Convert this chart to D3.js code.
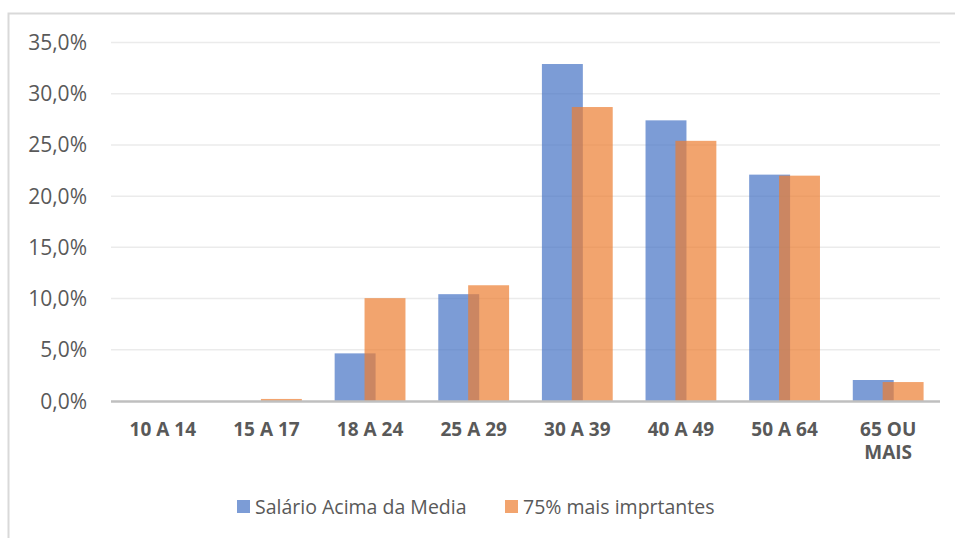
<!DOCTYPE html>
<html><head><meta charset="utf-8">
<script src="https://cdn.jsdelivr.net/npm/d3@7"></script>
<style>body{margin:0;background:#fff}svg{display:block}</style>
</head><body>
<svg id="c" width="955" height="538"></svg>
<script>
const categories = [["10 A 14"],["15 A 17"],["18 A 24"],["25 A 29"],["30 A 39"],["40 A 49"],["50 A 64"],["65 OU","MAIS"]];
const seriesNames = ["Salário Acima da Media","75% mais imprtantes"];
const salarioAcima = [0.0, 0.0, 4.65, 10.43, 32.9, 27.4, 22.1, 2.05];
const mais75 = [0.0, 0.2, 10.04, 11.3, 28.7, 25.4, 22.0, 1.85];
const yTicks = [0,5,10,15,20,25,30,35];
const colors = ["#4472C4","#ED7D31"];

const svg = d3.select("#c");
const F = "'Open Sans', sans-serif";
// frame
svg.append("path").attr("d","M8.5,538 L8.5,13.5 L955,13.5").attr("fill","none").attr("stroke","#d9d9d9").attr("stroke-width",2);

const x = d3.scaleBand().domain(categories.map((d,i)=>i)).range([111,940]).padding(0);
const y = d3.scaleLinear().domain([0,35]).range([401,42.5]);

// grid
svg.append("g").selectAll("line").data(yTicks.filter(t=>t>0)).join("line")
  .attr("x1",111).attr("x2",940).attr("y1",d=>y(d)).attr("y2",d=>y(d))
  .attr("stroke","#ebebeb").attr("stroke-width",1.5);

// y labels
svg.append("g").selectAll("text").data(yTicks).join("text")
  .attr("x",87).attr("y",d=>y(d)).attr("dy","0.36em").attr("text-anchor","end")
  .attr("font-family",F).attr("font-size",21).attr("fill","#595959")
  .text(d=>d.toFixed(1).replace(".",",")+"%");

const bw = x.bandwidth()*0.395;
const off = bw*0.73;
const series = [salarioAcima, mais75];
series.forEach((vals,s)=>{
  svg.append("g").selectAll("rect").data(vals).join("rect")
    .attr("x",(d,i)=>x(i)+x.bandwidth()/2-(bw+off)/2+s*off)
    .attr("width",bw)
    .attr("y",d=>y(d)).attr("height",d=>y(0)-y(d))
    .attr("fill",colors[s]).attr("fill-opacity",0.7);
});

// axis line
svg.append("line").attr("x1",111).attr("x2",940).attr("y1",401.5).attr("y2",401.5)
  .attr("stroke","#bfbfbf").attr("stroke-width",2.5);

// x labels
const xl = svg.append("g").selectAll("text").data(categories).join("text")
  .attr("x",(d,i)=>x(i)+x.bandwidth()/2).attr("y",436).attr("text-anchor","middle")
  .attr("font-family",F).attr("font-size",19).attr("font-weight","bold").attr("fill","#595959");
xl.selectAll("tspan").data(d=>d).join("tspan")
  .attr("x",function(){return this.parentNode.getAttribute("x");})
  .attr("dy",(d,i)=>i? 23:0).text(d=>d);

// legend
const legX = [237,505];
seriesNames.forEach((n,i)=>{
  svg.append("rect").attr("x",legX[i]).attr("y",500).attr("width",13).attr("height",13)
    .attr("fill",colors[i]).attr("fill-opacity",0.7);
  svg.append("text").attr("x",legX[i]+18).attr("y",514).attr("font-family",F).attr("font-size",19.5)
    .attr("fill","#595959").text(n);
});
</script>
</body></html>
